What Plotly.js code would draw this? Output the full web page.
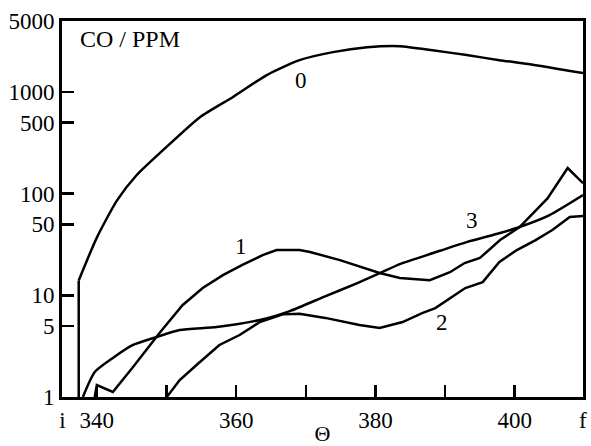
<!DOCTYPE html>
<html>
<head>
<meta charset="utf-8">
<script src="https://cdn.plot.ly/plotly-3.0.1.min.js"></script>
<style>html,body{margin:0;padding:0;background:#fff;}#chart{width:591px;height:446px;}</style>
</head>
<body>
<div id="chart"></div>
<script>
// Curve 0
const x0 = [337.4, 337.4, 340, 342.9, 345.7, 349.5, 354.8, 359.5, 364.4, 369.1, 373.9, 378.8, 383.5, 388.2, 393.1, 397.8, 402.6, 409.8];
const y0 = [1, 14, 37, 86, 152, 268, 566, 890, 1470, 2060, 2470, 2760, 2830, 2580, 2310, 2060, 1860, 1540];
// Curve 1
const x1 = [339.7, 340, 342.3, 345.2, 349.0, 352.3, 355.2, 358.1, 360.9, 363.8, 365.8, 369.1, 370.6, 374.9, 380.6, 383.5, 387.8, 390.7, 392.8, 395.0, 397.9, 400.7, 404.7, 407.6, 409.8];
const y1 = [1, 1.31, 1.12, 1.97, 4.26, 8.0, 11.8, 15.8, 19.9, 24.9, 27.9, 27.9, 26.7, 22.2, 16.6, 14.8, 14.1, 16.9, 20.8, 23.3, 35, 47, 90, 179, 127];
// Curve 2
const x2 = [350.05, 351.9, 354.8, 357.6, 360.5, 363.4, 366.7, 369.1, 372.8, 377.7, 380.6, 383.9, 386.7, 388.6, 392.9, 395.4, 397.8, 400.3, 403.0, 405.4, 407.9, 409.8];
const y2 = [1, 1.47, 2.21, 3.25, 4.07, 5.46, 6.5, 6.6, 6.0, 5.1, 4.77, 5.46, 6.7, 7.5, 11.8, 13.5, 21.3, 27.9, 35, 43.9, 58.9, 60.2];
// Curve 3
const x3 = [338.0, 339.7, 342.3, 345.2, 348.6, 351.9, 357.2, 363.4, 367.7, 372.5, 377.4, 380.7, 383.5, 388.3, 393.1, 397.9, 400.7, 405.0, 409.8];
const y3 = [1, 1.76, 2.42, 3.25, 3.89, 4.56, 4.88, 5.72, 7.0, 9.6, 13.2, 16.6, 20.3, 26.1, 33.4, 41.0, 47.0, 61.6, 96.9];

const xTickVals = [335.05, 340, 350, 360, 370, 380, 390, 400, 409.76];
const xTickText = ['i', '340', '', '360', '', '380', '', '400', 'f'];
const yTickVals = [1, 5, 10, 50, 100, 500, 1000, 5000];
const yTickText = ['1', '5', '10', '50', '100', '500', '1000', '5000'];

const curveNames = ['0', '1', '2', '3'];
const labelX = [369.3, 360.7, 389.5, 393.8];
const labelY = [1310, 30.5, 5.46, 55];

const serif = 'Liberation Serif';
const lineStyle = (shape) => ({color: '#000', width: 2.5, shape: shape, smoothing: 0.6});

const traces = [
  // vertical rise at the start of curve 0
  {x: x0.slice(0, 2), y: y0.slice(0, 2), type: 'scatter', mode: 'lines', name: '0', line: lineStyle('linear'), hoverinfo: 'skip'},
  {x: x0.slice(1), y: y0.slice(1), type: 'scatter', mode: 'lines', name: '0', line: lineStyle('spline'), hoverinfo: 'skip'},
  {x: x1, y: y1, type: 'scatter', mode: 'lines', name: '1', line: lineStyle('linear'), hoverinfo: 'skip'},
  {x: x2, y: y2, type: 'scatter', mode: 'lines', name: '2', line: lineStyle('linear'), hoverinfo: 'skip'},
  {x: x3, y: y3, type: 'scatter', mode: 'lines', name: '3', line: lineStyle('spline'), hoverinfo: 'skip'}
];

const annotations = curveNames.map((n, i) => ({
  x: labelX[i], y: Math.log10(labelY[i]), xref: 'x', yref: 'y', text: n,
  showarrow: false, font: {family: serif, size: 23, color: '#000'}
}));
annotations.push({
  x: 0.031, y: 0.952, xref: 'paper', yref: 'paper', xanchor: 'left', yanchor: 'middle',
  text: 'CO / PPM', showarrow: false, font: {family: serif, size: 24, color: '#000'}
});

const layout = {
  width: 591, height: 446,
  margin: {l: 62, r: 8, t: 21, b: 49},
  showlegend: false,
  font: {family: serif, size: 22, color: '#000'},
  xaxis: {
    range: [335, 409.8], tickvals: xTickVals, ticktext: xTickText,
    ticks: 'inside', ticklen: 12, tickwidth: 2.5, tickcolor: '#000',
    showline: true, linewidth: 3, linecolor: '#000', mirror: true,
    showgrid: false, zeroline: false,
    tickfont: {family: serif, size: 23, color: '#000'},
    title: {text: 'Θ', font: {family: serif, size: 22, color: '#000'}, standoff: 0}
  },
  yaxis: {
    type: 'log', range: [0, Math.log10(5000)], tickvals: yTickVals, ticktext: yTickText,
    ticks: 'inside', ticklen: 12, tickwidth: 2.5, tickcolor: '#000',
    showline: true, linewidth: 3, linecolor: '#000', mirror: true,
    showgrid: false, zeroline: false,
    tickfont: {family: serif, size: 23, color: '#000'}
  },
  annotations: annotations
};

Plotly.newPlot('chart', traces, layout, {staticPlot: true, displayModeBar: false});
</script>
</body>
</html>
